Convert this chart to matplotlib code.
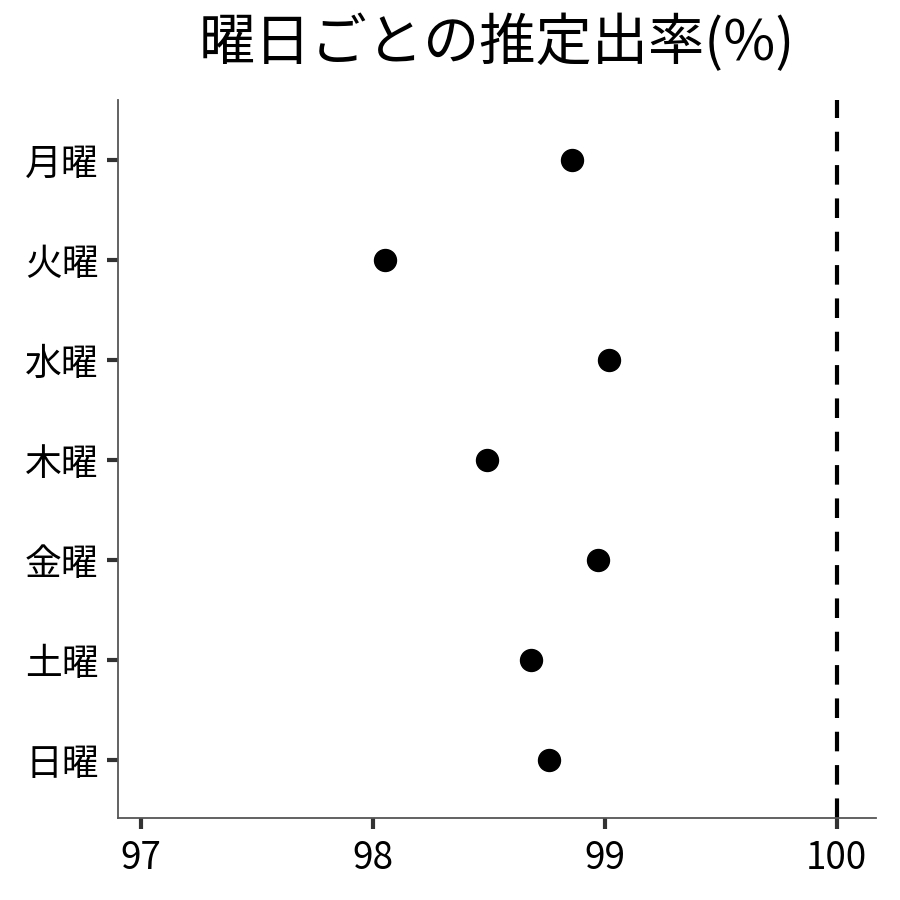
import matplotlib
matplotlib.use("Agg")
import matplotlib.pyplot as plt

plt.rcParams['font.family'] = ['Noto Sans CJK JP', 'DejaVu Sans']

days = ['月曜', '火曜', '水曜', '木曜', '金曜', '土曜', '日曜']
rates = [98.86, 98.05, 99.02, 98.49, 98.97, 98.68, 98.76]
xticks = [97, 98, 99, 100]

fig = plt.figure(figsize=(9, 9), dpi=100)
ax = fig.add_axes([118/900, 82/900, 758/900, 718/900])

ypos = list(range(1, len(days) + 1))
ax.scatter(rates, ypos, s=250, color='black', zorder=3)
ax.axvline(100, color='black', linewidth=3, linestyle=(0, (4.7, 3.3)))

ax.set_yticks(ypos)
ax.set_yticklabels(days)
ax.set_xticks(xticks)
ax.set_xticklabels([str(t) for t in xticks])
ax.set_ylim(7.58, 0.4)
ax.set_xlim(96.9, 100.17)

for s in ['top', 'right']:
    ax.spines[s].set_visible(False)
for s in ['left', 'bottom']:
    ax.spines[s].set_color('#555555')
    ax.spines[s].set_linewidth(1.3)
ax.tick_params(axis='both', length=8, width=3, color='#333333', labelsize=26.5)
ax.tick_params(axis='y', pad=6)
ax.tick_params(axis='x', pad=7)

fig.text(497/900, 1 - 44/900, '曜日ごとの推定出率(%)', ha='center', va='center', fontsize=40.5)

fig.savefig('out.png', dpi=100, facecolor='white')
